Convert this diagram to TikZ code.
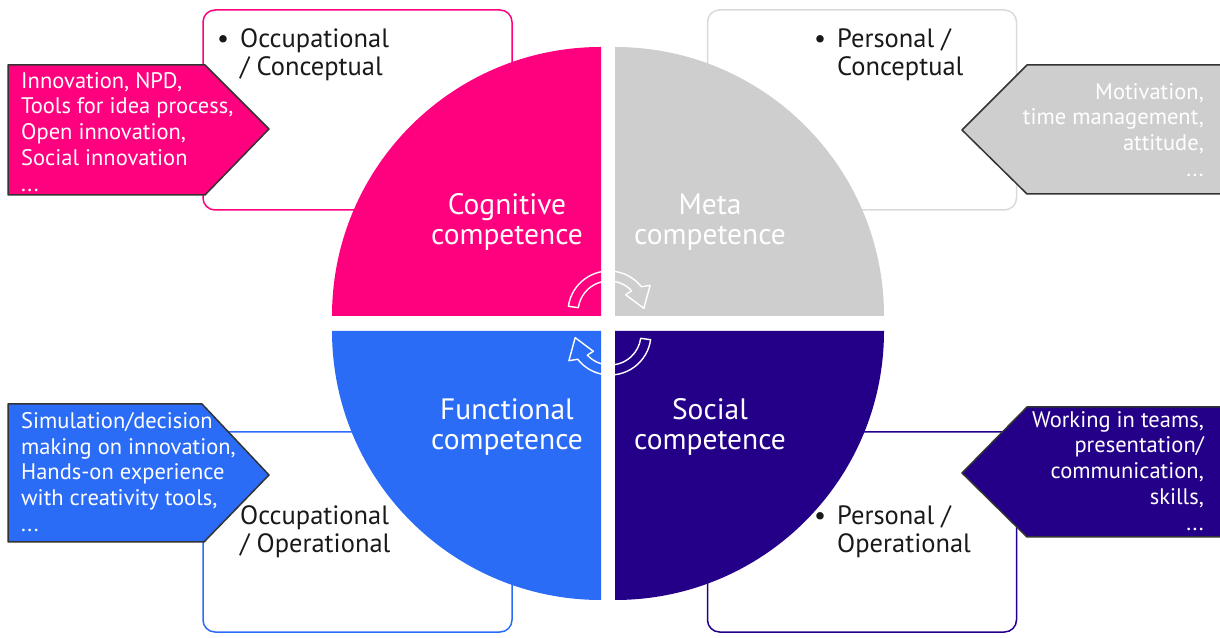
\documentclass[tikz,border=0pt]{standalone}
\usepackage{fontspec}
\setmainfont{PT Sans}
\usetikzlibrary{positioning}
\pgfdeclarelayer{background}
\pgfsetlayers{background,main}
\definecolor{cogpink}{RGB}{255,0,127}
\definecolor{metagrey}{RGB}{206,206,206}
\definecolor{metaline}{RGB}{218,218,218}
\definecolor{funcblue}{RGB}{43,108,246}
\definecolor{socnavy}{RGB}{36,0,136}
\newcommand{\Quarter}[3]% corner, start angle, colour
{\fill[#3] (#1) -- ++(#2:269pt) arc[start angle=#2, delta angle=-90, radius=269pt] -- cycle;}
\newcommand{\Frame}[3]% centre, colour, name
{ \begin{pgfonlayer}{background}
    \node[facetbox,draw=#2] (#3) at (#1) {};
  \end{pgfonlayer}
}
\newcommand{\Turn}[2]% centre, rotation
{\draw[cyclearrow,shift={(#1)},rotate=#2] (172:31pt) -- (172:41pt)
   arc[start angle=172, end angle=38, radius=41pt] -- (33:49pt) -- (6:35pt)
   -- (46:24pt) -- (43:31pt) arc[start angle=43, end angle=172, radius=31pt] -- cycle;}

\begin{document}
\begin{tikzpicture}[x=1pt,y=1pt,
    facetbox/.style={rounded corners=12pt,line width=1.5pt,minimum width=309pt,minimum height=200pt,inner sep=0},
    tagshape/.style={draw=black!80,line width=1.5pt,line join=round},
    tagtext/.style={text=white,font=\fontsize{22.5}{25.8}\selectfont,inner sep=0},
    facet/.style={font=\fontsize{26.5}{28}\selectfont,inner sep=0,align=left,text=black!90},
    core/.style={text=white,font=\fontsize{29.5}{30}\selectfont,align=center,inner sep=0},
    cyclearrow/.style={draw=white,line width=1.4pt,line join=round}]
  \useasboundingbox (0,0) rectangle (1220,637);
  % frames behind the four quarters
  \Frame{357.5,527}{cogpink}{occconbox}
  \Frame{862,527}{metaline}{perconbox}
  \Frame{357.5,105}{funcblue}{occopbox}
  \Frame{862,105}{socnavy}{peropbox}
  \Quarter{601,321}{180}{cogpink}
  \Quarter{615,321}{90}{metagrey}
  \Quarter{615,306}{0}{socnavy}
  \Quarter{601,306}{270}{funcblue}
  \node[core] (cog) at (507,415) {Cognitive\\competence};
  \node[core] (meta) at (710,415) {Meta\\competence};
  \node[core] (func) at (507,210) {Functional\\competence};
  \node[core] (soc) at (710,210) {Social\\competence};
  \Turn{609,325}{0}
  \Turn{610,303}{180}
  \node[facet,anchor=north west] (occcon) at (240,609) {\llap{\textbullet\hspace{11pt}}Occupational\\/ Conceptual};
  \node[facet,anchor=north west] (percon) at (837,609) {\llap{\textbullet\hspace{11pt}}Personal /\\Conceptual};
  \node[facet,anchor=north west] (occop) at (240,132) {Occupational\\/ Operational};
  \node[facet,anchor=north west] (perop) at (837,132) {\llap{\textbullet\hspace{11pt}}Personal /\\Operational};
  % pointed tags
  \draw[tagshape,fill=cogpink] (8,572) -- (205,572) -- (269,508) -- (205,442) -- (8,442) -- cycle;
  \draw[tagshape,fill=metagrey] (1223,572) -- (1027,572) -- (962,507) -- (1027,443) -- (1223,443) -- cycle;
  \draw[tagshape,fill=funcblue] (8,233) -- (202,233) -- (269,162) -- (204,95) -- (8,95) -- cycle;
  \draw[tagshape,fill=socnavy] (1223,230) -- (1027,230) -- (962,164) -- (1027,100) -- (1223,100) -- cycle;
  \node[tagtext,anchor=north west,align=left] (cogtxt) at (21,565)
    {Innovation, NPD,\\Tools for idea process,\\Open innovation,\\Social innovation\\...};
  \node[tagtext,anchor=north east,align=right] (metatxt) at (1204,554)
    {Motivation,\\time management,\\attitude,\\...};
  \node[tagtext,anchor=north west,align=left] (functxt) at (21,225)
    {Simulation/decision\\making on innovation,\\Hands-on experience\\with creativity tools,\\...};
  \node[tagtext,anchor=north east,align=right] (soctxt) at (1204,226)
    {Working in teams,\\presentation/\\communication,\\skills,\\...};
\end{tikzpicture}
\end{document}
